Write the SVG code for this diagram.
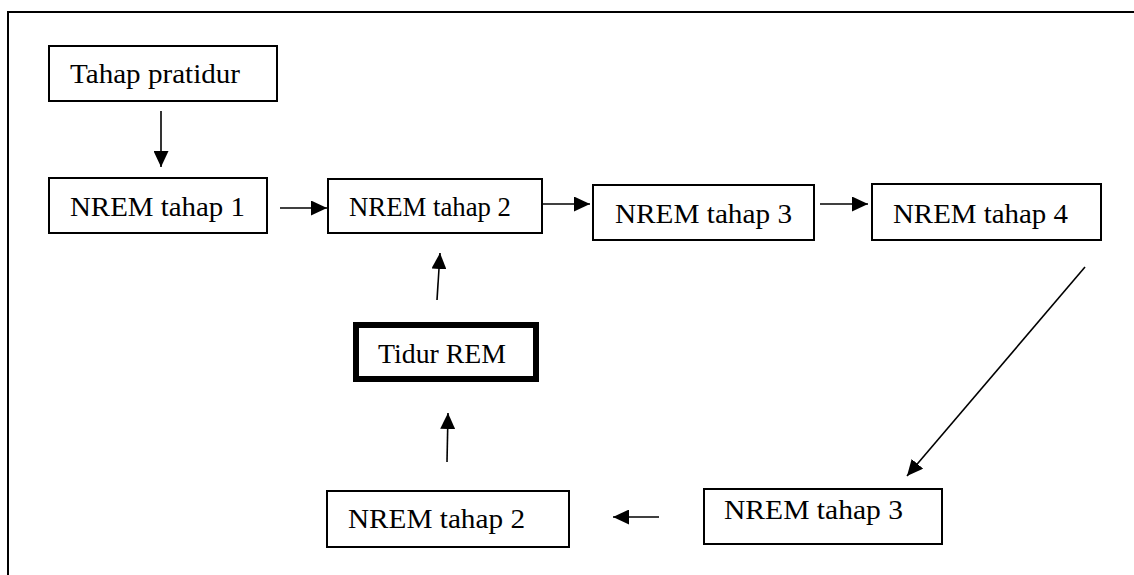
<svg xmlns="http://www.w3.org/2000/svg" width="1134" height="575" viewBox="0 0 1134 575">
<style>
.box{fill:#fff;stroke:#000;stroke-width:2}
.thick{fill:#fff;stroke:#000;stroke-width:6}
.lbl{font-family:'Liberation Serif','Times New Roman',serif;font-size:28px;fill:#000}
.con{stroke:#000;stroke-width:1.6;fill:none;marker-end:url(#ah)}
</style>
<defs>
<marker id="ah" markerUnits="userSpaceOnUse" markerWidth="16" markerHeight="15" viewBox="0 0 16 15" refX="16" refY="7.5" orient="auto">
<path d="M0,0 L16,7.5 L0,15 Z" fill="#000"/>
</marker>
</defs>
<rect width="1134" height="575" fill="#fff"/>
<path d="M8,575 V12 H1134" fill="none" stroke="#000" stroke-width="2"/>
<g id="connectors">
<line class="con" x1="161" y1="111" x2="161" y2="167"/>
<line class="con" x1="280" y1="208" x2="327" y2="208"/>
<line class="con" x1="543" y1="204" x2="590" y2="204"/>
<line class="con" x1="820" y1="204" x2="868" y2="204"/>
<line class="con" x1="1085" y1="267" x2="907" y2="476"/>
<line class="con" x1="659" y1="517" x2="613" y2="517"/>
<line class="con" x1="447" y1="462" x2="448" y2="413"/>
<line class="con" x1="437" y1="300" x2="440" y2="253"/>
</g>
<g id="n-pratidur"><rect class="box" x="49" y="46" width="228" height="55"/><text class="lbl" x="70" y="83" textLength="170" lengthAdjust="spacingAndGlyphs">Tahap pratidur</text></g>
<g id="n-nrem1"><rect class="box" x="49" y="178" width="218" height="55"/><text class="lbl" x="70" y="216" textLength="175" lengthAdjust="spacingAndGlyphs">NREM tahap 1</text></g>
<g id="n-nrem2-top"><rect class="box" x="328" y="179" width="214" height="54"/><text class="lbl" x="349" y="216" font-size="26" textLength="162" lengthAdjust="spacingAndGlyphs">NREM tahap 2</text></g>
<g id="n-nrem3-top"><rect class="box" x="593" y="185" width="221" height="55"/><text class="lbl" x="615" y="223" textLength="177" lengthAdjust="spacingAndGlyphs">NREM tahap 3</text></g>
<g id="n-nrem4"><rect class="box" x="872" y="184" width="229" height="56"/><text class="lbl" x="893" y="223" textLength="175" lengthAdjust="spacingAndGlyphs">NREM tahap 4</text></g>
<g id="n-rem"><rect class="thick" x="356" y="325" width="180" height="54"/><text class="lbl" x="378" y="363" textLength="128" lengthAdjust="spacingAndGlyphs">Tidur REM</text></g>
<g id="n-nrem2-bot"><rect class="box" x="327" y="491" width="242" height="56"/><text class="lbl" x="348" y="528" textLength="177" lengthAdjust="spacingAndGlyphs">NREM tahap 2</text></g>
<g id="n-nrem3-bot"><rect class="box" x="704" y="489" width="238" height="55"/><text class="lbl" x="724" y="519" textLength="179" lengthAdjust="spacingAndGlyphs">NREM tahap 3</text></g>
</svg>
